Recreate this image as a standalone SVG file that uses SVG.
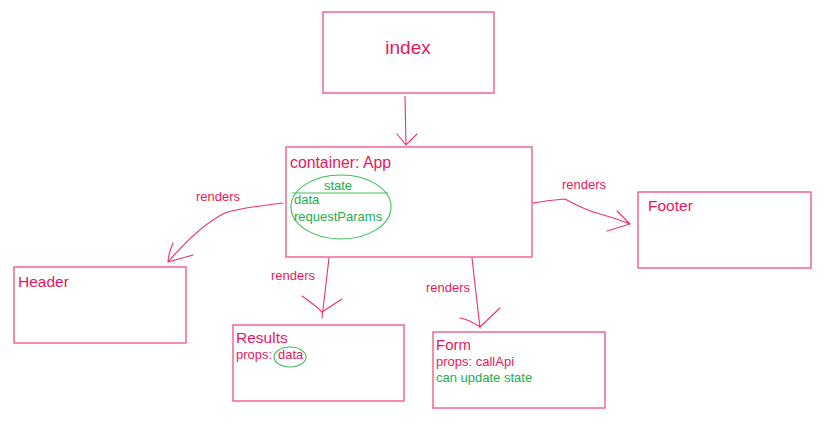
<svg xmlns="http://www.w3.org/2000/svg" width="827" height="437" viewBox="0 0 827 437">
<style>
.box{fill:#fff;stroke:#ee4f82;stroke-width:1.3}
.t{font-family:"Liberation Sans",Arial,sans-serif;fill:#e8175d}
.g{font-family:"Liberation Sans",Arial,sans-serif;fill:#21b04b}
.c{fill:none;stroke:#e8336d;stroke-width:1.1;stroke-linecap:round}
.ge{fill:none;stroke:#3cbd5c;stroke-width:1.1}
</style>
<rect width="827" height="437" fill="#fff"/>
<g id="index"><rect class="box" x="323" y="12" width="171" height="81"/><text class="t" x="408" y="54" font-size="19" text-anchor="middle">index</text></g>
<g id="app"><rect class="box" x="286" y="147" width="246" height="110"/><text class="t" x="290" y="168" font-size="15.8">container: App</text>
<ellipse class="ge" cx="341" cy="207" rx="50" ry="32"/><line class="ge" x1="292" y1="193" x2="388" y2="193"/>
<text class="g" x="338" y="190" font-size="13" text-anchor="middle">state</text>
<text class="g" x="294" y="204" font-size="13">data</text>
<text class="g" x="294" y="221" font-size="13">requestParams</text></g>
<g id="header"><rect class="box" x="14" y="267" width="172" height="76"/><text class="t" x="18" y="287" font-size="15.5">Header</text></g>
<g id="results"><rect class="box" x="233" y="325" width="171" height="76"/><text class="t" x="236" y="343" font-size="15.5">Results</text>
<text class="t" x="236" y="359" font-size="13">props:</text><ellipse class="ge" cx="290" cy="357" rx="16" ry="10"/><text class="t" x="278" y="359" font-size="13">data</text></g>
<g id="form"><rect class="box" x="433" y="332" width="172" height="76"/><text class="t" x="436" y="350" font-size="15">Form</text>
<text class="t" x="436" y="366" font-size="13">props: callApi</text><text class="g" x="436" y="382" font-size="13">can update state</text></g>
<g id="footer"><rect class="box" x="638" y="192" width="173" height="76"/><text class="t" x="648" y="211" font-size="15.5">Footer</text></g>
<g id="connectors">
<path class="c" d="M405 96 L406 145 M397 134 L406 145 L417 134"/>
<path class="c" d="M283 203 Q240 208 225 213 Q200 225 168 262 M173 243 Q168 255 168 262 L193 255"/>
<path class="c" d="M329 258 L322 318 M302 296 Q315 305 322 312 L342 299"/>
<path class="c" d="M472 258 L480 328 M460 318 Q470 320 480 327 L500 308"/>
<path class="c" d="M533 203 Q550 200 565 199 Q585 210 600 214 Q615 218 630 224 L607 231 M617 211 L630 224"/>
<text class="t" x="196" y="201" font-size="13">renders</text>
<text class="t" x="271" y="280" font-size="13">renders</text>
<text class="t" x="426" y="292" font-size="13">renders</text>
<text class="t" x="562" y="189" font-size="13">renders</text>
</g>
</svg>
